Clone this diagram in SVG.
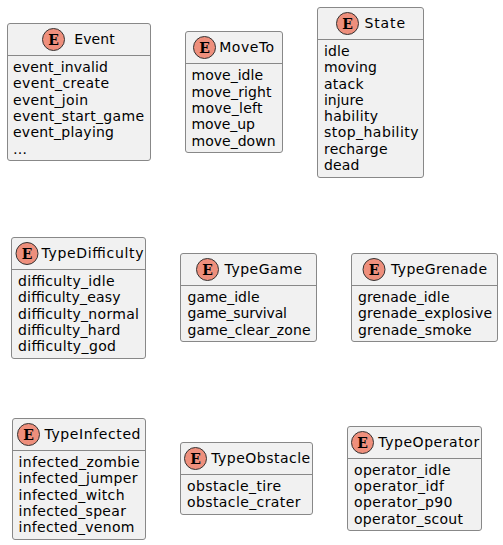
<svg xmlns="http://www.w3.org/2000/svg" width="503" height="545" viewBox="0 0 503 545">
<style>
text{font-family:"DejaVu Sans",sans-serif;font-size:14px;fill:#000}
.b{fill:#F1F1F1;stroke:#888;stroke-width:1}
.l{stroke:#888;stroke-width:1}
.c{fill:#EE8F7C;stroke:#333;stroke-width:1}
text.e{font-family:"DejaVu Serif",serif;font-size:14px;font-weight:bold;text-anchor:middle}
</style>
<g id="Event"><rect class="b" x="7.5" y="23.5" width="143" height="137" rx="2.5"/><line class="l" x1="7.5" y1="55.5" x2="150.5" y2="55.5"/><circle class="c" cx="53.5" cy="39.5" r="11"/><text class="e" x="53.5" y="44.5">E</text><text x="74.2" y="44" textLength="40.5">Event</text><text x="13" y="72" textLength="95">event_invalid</text><text x="13" y="88" textLength="96">event_create</text><text x="13" y="105" textLength="75">event_join</text><text x="13" y="121" textLength="131">event_start_game</text><text x="13" y="137" textLength="101">event_playing</text><text x="13" y="154" textLength="14">…</text></g>
<g id="MoveTo"><rect class="b" x="185.5" y="31.5" width="97" height="121" rx="2.5"/><line class="l" x1="185.5" y1="63.5" x2="282.5" y2="63.5"/><circle class="c" cx="204.5" cy="47.5" r="11"/><text class="e" x="204.5" y="52.5">E</text><text x="219.2" y="52" textLength="55">MoveTo</text><text x="191.5" y="80" textLength="71.5">move_idle</text><text x="191.5" y="97" textLength="80">move_right</text><text x="191.5" y="113" textLength="71">move_left</text><text x="191.5" y="129" textLength="63.5">move_up</text><text x="191.5" y="146" textLength="84">move_down</text></g>
<g id="State"><rect class="b" x="317.5" y="7.5" width="106" height="170" rx="2.5"/><line class="l" x1="317.5" y1="39.5" x2="423.5" y2="39.5"/><circle class="c" cx="347.5" cy="23.5" r="11"/><text class="e" x="347.5" y="28.5">E</text><text x="364.5" y="28" textLength="40.5">State</text><text x="324" y="56" textLength="25.5">idle</text><text x="324" y="72" textLength="53">moving</text><text x="324" y="89" textLength="39.5">atack</text><text x="324" y="105" textLength="39.5">injure</text><text x="324" y="121" textLength="54">hability</text><text x="324" y="137" textLength="94.5">stop_hability</text><text x="324" y="154" textLength="63.5">recharge</text><text x="324" y="170" textLength="35.5">dead</text></g>
<g id="TypeDifficulty"><rect class="b" x="11.5" y="237.5" width="134" height="121" rx="2.5"/><line class="l" x1="11.5" y1="269.5" x2="145.5" y2="269.5"/><circle class="c" cx="27" cy="253.5" r="11"/><text class="e" x="27" y="258.5">E</text><text x="41.5" y="258" textLength="102">TypeDifficulty</text><text x="18" y="286" textLength="96.5">difficulty_idle</text><text x="18" y="302" textLength="102.5">difficulty_easy</text><text x="18" y="319" textLength="121">difficulty_normal</text><text x="18" y="335" textLength="102.5">difficulty_hard</text><text x="18" y="351" textLength="98">difficulty_god</text></g>
<g id="TypeGame"><rect class="b" x="180.5" y="253.5" width="136" height="88" rx="2.5"/><line class="l" x1="180.5" y1="285.5" x2="316.5" y2="285.5"/><circle class="c" cx="207.5" cy="269.5" r="11"/><text class="e" x="207.5" y="274.5">E</text><text x="224.5" y="274" textLength="77.5">TypeGame</text><text x="187.5" y="302" textLength="72">game_idle</text><text x="187.5" y="318" textLength="99.5">game_survival</text><text x="187.5" y="335" textLength="123">game_clear_zone</text></g>
<g id="TypeGrenade"><rect class="b" x="351.5" y="253.5" width="146" height="88" rx="2.5"/><line class="l" x1="351.5" y1="285.5" x2="497.5" y2="285.5"/><circle class="c" cx="374" cy="269.5" r="11"/><text class="e" x="374" y="274.5">E</text><text x="391" y="274" textLength="96">TypeGrenade</text><text x="358" y="302" textLength="91.5">grenade_idle</text><text x="358" y="318" textLength="134">grenade_explosive</text><text x="358" y="335" textLength="113.5">grenade_smoke</text></g>
<g id="TypeInfected"><rect class="b" x="12.5" y="418.5" width="133" height="121" rx="2.5"/><line class="l" x1="12.5" y1="450.5" x2="145.5" y2="450.5"/><circle class="c" cx="28.5" cy="434.5" r="11"/><text class="e" x="28.5" y="439.5">E</text><text x="44.5" y="439" textLength="96">TypeInfected</text><text x="18.5" y="467" textLength="121">infected_zombie</text><text x="18.5" y="483" textLength="119">infected_jumper</text><text x="18.5" y="500" textLength="106">infected_witch</text><text x="18.5" y="516" textLength="107.5">infected_spear</text><text x="18.5" y="532" textLength="116">infected_venom</text></g>
<g id="TypeObstacle"><rect class="b" x="180.5" y="442.5" width="132" height="72" rx="2.5"/><line class="l" x1="180.5" y1="474.5" x2="312.5" y2="474.5"/><circle class="c" cx="195.5" cy="458.5" r="11"/><text class="e" x="195.5" y="463.5">E</text><text x="211.2" y="463" textLength="99">TypeObstacle</text><text x="187" y="491" textLength="94">obstacle_tire</text><text x="187" y="507" textLength="113.5">obstacle_crater</text></g>
<g id="TypeOperator"><rect class="b" x="347.5" y="426.5" width="134" height="104" rx="2.5"/><line class="l" x1="347.5" y1="458.5" x2="481.5" y2="458.5"/><circle class="c" cx="362.5" cy="442.5" r="11"/><text class="e" x="362.5" y="447.5">E</text><text x="378.2" y="447" textLength="101">TypeOperator</text><text x="354" y="475" textLength="96.5">operator_idle</text><text x="354" y="491" textLength="90">operator_idf</text><text x="354" y="507" textLength="98.5">operator_p90</text><text x="354" y="524" textLength="109">operator_scout</text></g>
<g id="connectors"/>
</svg>
